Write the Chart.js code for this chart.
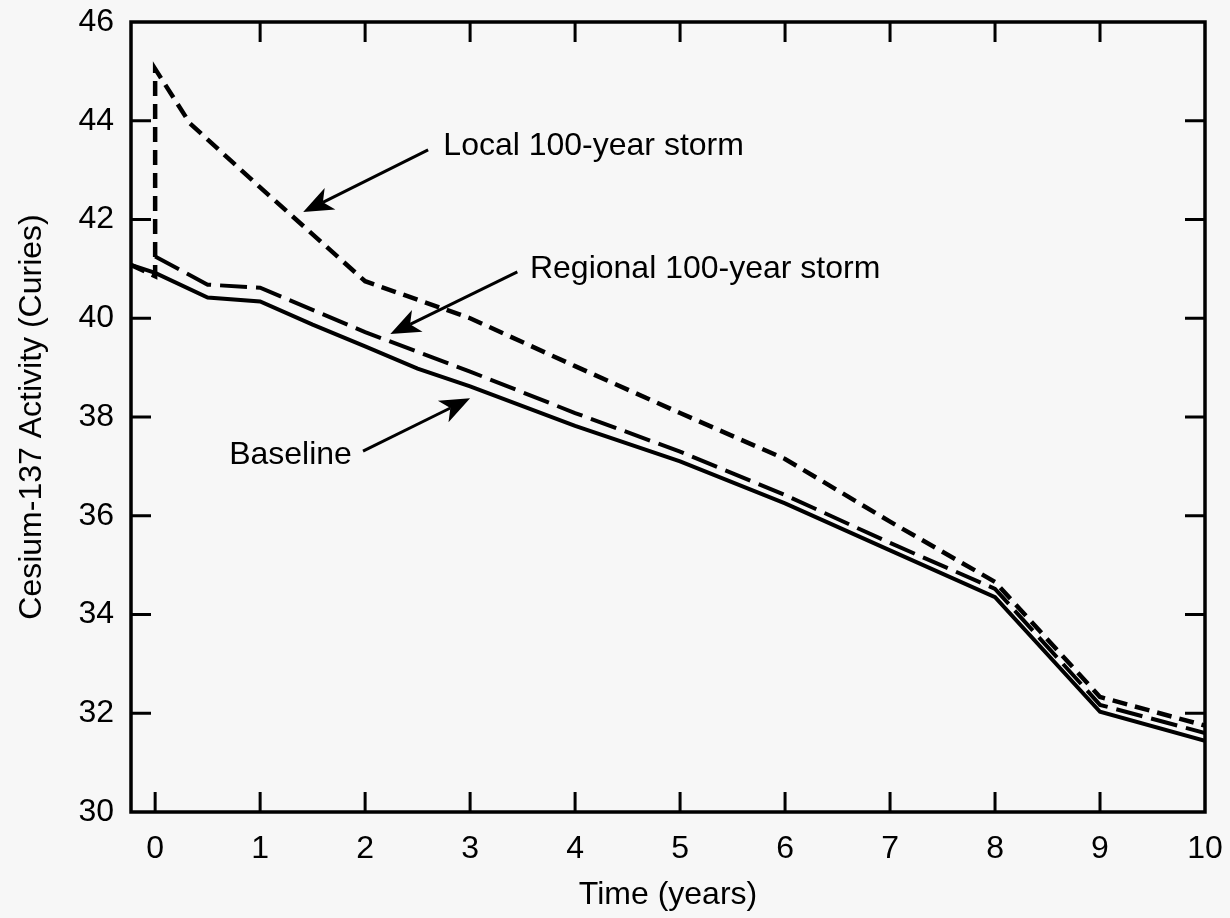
<!DOCTYPE html>
<html>
<head>
<meta charset="utf-8">
<script src="https://cdn.jsdelivr.net/npm/chart.js@4.4.1/dist/chart.umd.min.js"></script>
<style>
  html, body { margin: 0; padding: 0; background: #f7f7f7; }
</style>
</head>
<body>
<canvas id="chart" width="1230" height="918"></canvas>
<script>
// tick values
const xTicks = [0, 1, 2, 3, 4, 5, 6, 7, 8, 9, 10];
const yTicks = [30, 32, 34, 36, 38, 40, 42, 44, 46];

// series (years, curies)
const baselineYears = [-0.23, 0, 0.5, 1, 1.5, 2, 2.5, 3, 4, 5, 6, 7, 8, 9, 10];
const baselineValues = [41.08, 40.92, 40.42, 40.34, 39.87, 39.43, 38.98, 38.62, 37.82, 37.1, 36.25, 35.3, 34.35, 32.03, 31.44];

const regionalYears = [0, 0.5, 1, 2, 3, 4, 5, 6, 7, 8, 9, 10];
const regionalValues = [41.25, 40.68, 40.62, 39.72, 38.92, 38.08, 37.3, 36.42, 35.45, 34.52, 32.17, 31.6];

const localYears = [-0.23, 0, 0, 0.33, 1, 2, 3, 4, 5, 6, 7, 8, 9, 10];
const localValues = [41.08, 40.85, 45.05, 43.95, 42.65, 40.75, 40.0, 39.03, 38.08, 37.15, 35.88, 34.66, 32.33, 31.75];

// callout labels and arrows, in data units
const labelTexts = ['Local 100-year storm', 'Regional 100-year storm', 'Baseline'];
const labelX = [2.745, 3.57, 0.705];
const labelY = [43.31, 40.82, 37.05];
const arrowFromX = [2.60, 3.45, 1.98];
const arrowFromY = [43.41, 40.94, 37.31];
const arrowToX = [1.41, 2.24, 3.00];
const arrowToY = [42.15, 39.68, 38.38];

const FONT = { family: '"Liberation Sans", Arial, Helvetica, sans-serif', size: 32 };

function pts(xs, ys) {
    return xs.map((x, i) => ({ x: x, y: ys[i] }));
}

function drawArrow(ctx, x1, y1, x2, y2) {
    const ang = Math.atan2(y2 - y1, x2 - x1);
    const len = 30, half = 12, notch = 8;
    const bx = x2 - Math.cos(ang) * len, by = y2 - Math.sin(ang) * len;
    const nx = x2 - Math.cos(ang) * (len - notch), ny = y2 - Math.sin(ang) * (len - notch);
    ctx.beginPath();
    ctx.moveTo(x1, y1);
    ctx.lineTo(nx, ny);
    ctx.stroke();
    ctx.beginPath();
    ctx.moveTo(x2, y2);
    ctx.lineTo(bx - Math.sin(ang) * half, by + Math.cos(ang) * half);
    ctx.lineTo(nx, ny);
    ctx.lineTo(bx + Math.sin(ang) * half, by - Math.cos(ang) * half);
    ctx.closePath();
    ctx.fill();
}

const framePlugin = {
    id: 'frame',
    afterDatasetsDraw(chart) {
        const { ctx, chartArea: a, scales: { x, y } } = chart;
        ctx.save();
        ctx.strokeStyle = '#000';
        ctx.fillStyle = '#000';
        ctx.lineWidth = 3.5;
        ctx.strokeRect(a.left, a.top, a.right - a.left, a.bottom - a.top);
        const tl = 20;
        ctx.lineWidth = 3;
        ctx.beginPath();
        xTicks.forEach(v => {
            const px = x.getPixelForValue(v);
            if (v < 10) { ctx.moveTo(px, a.bottom); ctx.lineTo(px, a.bottom - tl); }
            if (v > 0 && v < 10) { ctx.moveTo(px, a.top); ctx.lineTo(px, a.top + tl); }
        });
        yTicks.forEach(v => {
            if (v <= 30 || v >= 46) return;
            const py = y.getPixelForValue(v);
            ctx.moveTo(a.left, py); ctx.lineTo(a.left + tl, py);
            ctx.moveTo(a.right, py); ctx.lineTo(a.right - tl, py);
        });
        ctx.stroke();

        // callouts
        ctx.lineWidth = 3;
        ctx.font = FONT.size + 'px ' + FONT.family;
        ctx.textBaseline = 'alphabetic';
        ctx.textAlign = 'left';
        labelTexts.forEach((t, i) => {
            ctx.fillText(t, x.getPixelForValue(labelX[i]), y.getPixelForValue(labelY[i]));
            drawArrow(ctx,
                x.getPixelForValue(arrowFromX[i]), y.getPixelForValue(arrowFromY[i]),
                x.getPixelForValue(arrowToX[i]), y.getPixelForValue(arrowToY[i]));
        });
        ctx.restore();
    }
};

new Chart(document.getElementById('chart').getContext('2d'), {
    type: 'line',
    data: {
        datasets: [
            { label: 'Baseline', data: pts(baselineYears, baselineValues),
              borderColor: '#000', borderWidth: 4, pointRadius: 0, tension: 0 },
            { label: 'Regional 100-year storm', data: pts(regionalYears, regionalValues),
              borderColor: '#000', borderWidth: 4, borderDash: [27, 9], pointRadius: 0, tension: 0 },
            { label: 'Local 100-year storm', data: pts(localYears, localValues),
              borderColor: '#000', borderWidth: 4.5, borderDash: [15, 8], pointRadius: 0, tension: 0 }
        ]
    },
    options: {
        responsive: false,
        animation: false,
        devicePixelRatio: 1,
        layout: { padding: { top: 22, right: 25, left: 0, bottom: 0 } },
        plugins: { legend: { display: false }, tooltip: { enabled: false } },
        scales: {
            x: {
                type: 'linear', min: -0.23, max: 10,
                afterBuildTicks: s => { s.ticks = xTicks.map(v => ({ value: v })); },
                afterFit: s => { s.height = 106; s.paddingLeft = 0; s.paddingRight = 0; },
                grid: { display: false }, border: { display: false },
                ticks: { font: FONT, color: '#000', padding: 10, maxRotation: 0, autoSkip: false },
                title: { display: true, text: 'Time (years)', font: FONT, color: '#000', padding: { top: 0, bottom: 4 } }
            },
            y: {
                type: 'linear', min: 30, max: 46,
                afterBuildTicks: s => { s.ticks = yTicks.map(v => ({ value: v })); },
                afterFit: s => { s.width = 131; s.paddingTop = 0; s.paddingBottom = 0; },
                grid: { display: false }, border: { display: false },
                ticks: { font: FONT, color: '#000', padding: 9 },
                title: { display: true, text: 'Cesium-137 Activity (Curies)', font: FONT, color: '#000', padding: { top: 13, bottom: 0 } }
            }
        }
    },
    plugins: [framePlugin]
});
</script>
</body>
</html>
